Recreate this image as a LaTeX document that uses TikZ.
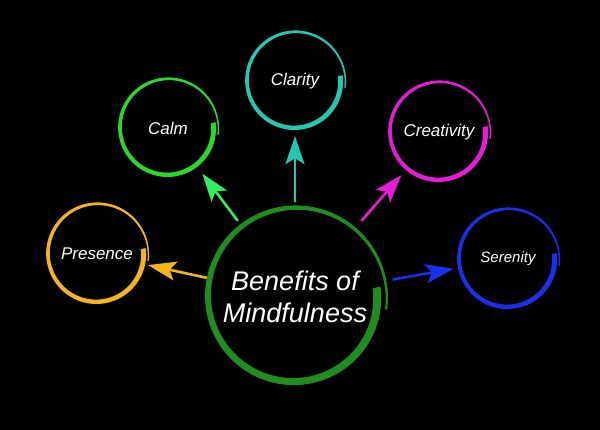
\documentclass[tikz,border=0pt]{standalone}
\usepackage{fontspec}
\setmainfont{Liberation Sans}
\usetikzlibrary{arrows.meta}

\definecolor{mainGreen}{HTML}{1E8E1E}
\definecolor{presenceYellow}{HTML}{F4B41A}
\definecolor{calmGreen}{HTML}{2AD82A}
\definecolor{calmArrow}{HTML}{30F060}
\definecolor{clarityTeal}{HTML}{22C8B2}
\definecolor{creativityPink}{HTML}{E81ADA}
\definecolor{serenityBlue}{HTML}{1A30F0}

\begin{document}
\begin{tikzpicture}[x=1pt, y=1pt]
  \tikzstyle{bubble}=[circle, text=white, inner sep=0pt, font=\itshape\fontsize{17}{20}\selectfont]
  \tikzstyle{arr}=[line width=2.6pt, -{Stealth[length=28pt, width=19pt, inset=6pt]}, shorten <=7pt, shorten >=7pt]
  \fill[black] (0,0) rectangle (600,430);

  \node[bubble, minimum size=174pt, align=center, font=\itshape\fontsize{27}{32}\selectfont] (main) at (295,133) {Benefits of\\Mindfulness};
  \node[bubble, minimum size=98pt] (presence) at (97,176) {Presence};
  \node[bubble, minimum size=96pt] (calm) at (168,302) {Calm};
  \node[bubble, minimum size=96pt] (clarity) at (295,349) {Clarity};
  \node[bubble, minimum size=98pt] (creativity) at (439,298) {Creativity};
  \node[bubble, minimum size=98pt, font=\itshape\fontsize{15}{18}\selectfont] (serenity) at (508,171) {Serenity};

  % brush-stroke rings: name/colour/radius/spread/width
  \foreach \n/\c/\R/\D/\W in {main/mainGreen/87/5/8, presence/presenceYellow/49/2.5/5, calm/calmGreen/48/2.5/5, clarity/clarityTeal/48/2.5/5, creativity/creativityPink/49/2.5/5, serenity/serenityBlue/49/2.5/5}
    \fill[\c, shift={(\n.center)}]
      plot[domain=0:1, samples=150] ({(\R-\D+2*\D*\x+\W*(1-0.45*\x-0.3*\x^3)/2)*cos(7-375*\x)}, {(\R-\D+2*\D*\x+\W*(1-0.45*\x-0.3*\x^3)/2)*sin(7-375*\x)})
      -- plot[domain=1:0, samples=150] ({(\R-\D+2*\D*\x-\W*(1-0.45*\x-0.3*\x^3)/2)*cos(7-375*\x)}, {(\R-\D+2*\D*\x-\W*(1-0.45*\x-0.3*\x^3)/2)*sin(7-375*\x)})
      -- cycle;

  \draw[arr, presenceYellow, shorten <=3pt, shorten >=3pt] (main) -- (presence);
  \draw[arr, calmArrow, shorten <=8pt, shorten >=9pt] (main) -- (calm);
  \draw[arr, clarityTeal, shorten <=8pt, shorten >=7pt] (main) -- (clarity);
  \draw[arr, creativityPink, shorten <=14pt, shorten >=8pt] (main) -- (creativity);
  \draw[arr, serenityBlue, shorten <=12pt, shorten >=6pt] (main) -- (serenity);
\end{tikzpicture}
\end{document}
